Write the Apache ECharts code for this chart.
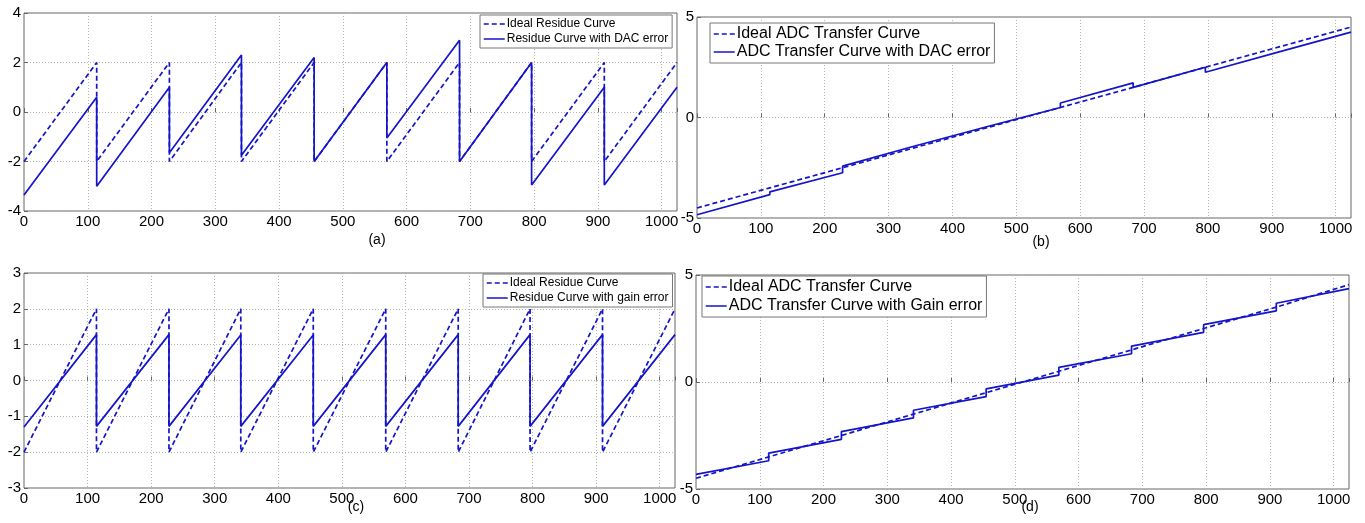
<!DOCTYPE html>
<html>
<head>
<meta charset="utf-8">
<script src="https://cdn.jsdelivr.net/npm/echarts@6/dist/echarts.min.js"></script>
<style>
html,body{margin:0;padding:0;background:#fff;}
#chart{width:1365px;height:523px;}
</style>
</head>
<body>
<div id="chart"></div>
<script>
// ---- data ----
var segmentBreaks = [0, 114, 228, 341, 455, 569, 683, 796, 910, 1024];

// (a) residue curves, DAC error
var idealResidueStart = [-2, -2, -2, -2, -2, -2, -2, -2, -2];
var idealResidueEnd   = [2, 2, 2, 2, 2, 2, 2, 2, 2];
var dacResidueStart   = [-3.35, -3.0, -1.65, -1.75, -2.0, -1.05, -2.0, -2.95, -2.95];
var dacResidueEnd     = [0.6, 1.0, 2.3, 2.2, 2.0, 2.9, 2.0, 1.0, 1.0];

// (b) ADC transfer curves, DAC error
var idealTransferB    = [-4.5, -3.5, -2.5, -1.5, -0.5, 0.5, 1.5, 2.5, 3.5, 4.5];
var dacTransferStart  = [-4.84, -3.7, -2.42, -1.45, -0.5, 0.72, 1.5, 2.25, 3.25];
var dacTransferEnd    = [-3.84, -2.75, -1.42, -0.45, 0.5, 1.72, 2.5, 3.25, 4.25];

// (c) residue curves, gain error
var gainResidueStart  = [-1.3, -1.28, -1.28, -1.28, -1.28, -1.28, -1.28, -1.28, -1.28];
var gainResidueEnd    = [1.28, 1.28, 1.27, 1.27, 1.28, 1.28, 1.28, 1.28, 1.28];

// (d) ADC transfer curves, gain error
var idealTransferD    = [-4.5, -3.5, -2.5, -1.5, -0.5, 0.5, 1.5, 2.5, 3.5, 4.55];
var gainTransferStart = [-4.32, -3.32, -2.32, -1.32, -0.32, 0.68, 1.68, 2.68, 3.68];
var gainTransferEnd   = [-3.68, -2.68, -1.68, -0.68, 0.32, 1.32, 2.32, 3.32, 4.36];

var xTickLabels = [0, 100, 200, 300, 400, 500, 600, 700, 800, 900, 1000];
var panelLabels = ['(a)', '(b)', '(c)', '(d)'];
var legendA = ['Ideal Residue Curve', 'Residue Curve with DAC error'];
var legendB = ['Ideal ADC Transfer Curve', 'ADC Transfer Curve with DAC error'];
var legendC = ['Ideal Residue Curve', 'Residue Curve with gain error'];
var legendD = ['Ideal ADC Transfer Curve', 'ADC Transfer Curve with Gain error'];

// ---- helpers ----
function saw(starts, ends) {
  var d = [];
  for (var k = 0; k < starts.length; k++) {
    d.push([segmentBreaks[k], starts[k]]);
    d.push([segmentBreaks[k + 1], ends[k]]);
  }
  return d;
}
function pts(vals) {
  return vals.map(function (v, i) { return [segmentBreaks[i], v]; });
}

var BLUE = '#1414c8';
var FONT = 'Liberation Sans, Arial, Helvetica, sans-serif';

var grids = [
  {left: 24, top: 13, width: 653, height: 198},
  {left: 697, top: 17, width: 654, height: 201},
  {left: 24, top: 273, width: 651, height: 215},
  {left: 696, top: 275, width: 653, height: 214}
];
var yRanges = [[-4, 4, 2], [-5, 5, 5], [-3, 3, 1], [-5, 5, 5]];

function xAxisFor(i) {
  return {
    type: 'value', gridIndex: i, min: 0, max: 1024, interval: 100,
    axisLine: {show: false},
    axisTick: {show: true, inside: true, length: 4, lineStyle: {color: '#666'}},
    axisLabel: {
      color: '#000', fontSize: 15, fontFamily: FONT, margin: 3,
      formatter: function (v) { return xTickLabels.indexOf(v) >= 0 ? String(v) : ''; }
    },
    splitLine: {show: true, lineStyle: {color: '#b4b4b4', type: [1, 2], width: 1}}
  };
}
function yAxisFor(i) {
  return {
    type: 'value', gridIndex: i, min: yRanges[i][0], max: yRanges[i][1], interval: yRanges[i][2],
    axisLine: {show: false},
    axisTick: {show: true, inside: true, length: 4, lineStyle: {color: '#666'}},
    axisLabel: {color: '#000', fontSize: 15, fontFamily: FONT, margin: 3},
    splitLine: {show: true, lineStyle: {color: '#b4b4b4', type: [1, 2], width: 1}}
  };
}

function lineSeries(name, i, data, dashed) {
  return {
    type: 'line', name: name, xAxisIndex: i, yAxisIndex: i, data: data,
    symbol: 'none', animation: false, silent: true,
    lineStyle: {color: BLUE, width: 1.7, type: dashed ? [5, 3] : 'solid'},
    itemStyle: {color: BLUE}
  };
}

function legendFor(names, left, top, fontSize, gap) {
  return {
    show: true, orient: 'vertical', left: left, top: top,
    data: names.map(function (n) { return {name: n}; }),
    itemWidth: 21, itemHeight: 10, itemGap: gap,
    padding: [3, 4, 3, 3],
    borderColor: '#777', borderWidth: 1, backgroundColor: '#fff',
    itemStyle: {opacity: 0},
    lineStyle: {width: 1.5},
    textStyle: {fontSize: fontSize, fontFamily: FONT, color: '#000', padding: [0, 0, 0, -3]},
    selectedMode: false
  };
}

var option = {
  backgroundColor: '#fff',
  animation: false,
  grid: grids.map(function (g) {
    return Object.assign({show: true, borderColor: '#666', borderWidth: 1, backgroundColor: 'transparent'}, g);
  }),
  xAxis: [0, 1, 2, 3].map(xAxisFor),
  yAxis: [0, 1, 2, 3].map(yAxisFor),
  title: [
    {text: panelLabels[0], left: 377, top: 233, textAlign: 'center'},
    {text: panelLabels[1], left: 1041, top: 235, textAlign: 'center'},
    {text: panelLabels[2], left: 356, top: 500, textAlign: 'center'},
    {text: panelLabels[3], left: 1030, top: 500, textAlign: 'center'}
  ].map(function (t) {
    t.padding = 0;
    t.textStyle = {fontSize: 14, fontWeight: 'normal', fontFamily: FONT, color: '#000'};
    return t;
  }),
  legend: [
    legendFor(legendA, 480, 15, 12, 3),
    legendFor(legendB, 710, 23, 16, 2),
    legendFor(legendC, 483, 274, 12, 3),
    legendFor(legendD, 702, 276, 16, 3)
  ],
  series: [
    lineSeries(legendA[0], 0, saw(idealResidueStart, idealResidueEnd), true),
    lineSeries(legendA[1], 0, saw(dacResidueStart, dacResidueEnd), false),
    lineSeries(legendB[0], 1, pts(idealTransferB), true),
    lineSeries(legendB[1], 1, saw(dacTransferStart, dacTransferEnd), false),
    lineSeries(legendC[0], 2, saw(idealResidueStart, idealResidueEnd), true),
    lineSeries(legendC[1], 2, saw(gainResidueStart, gainResidueEnd), false),
    lineSeries(legendD[0], 3, pts(idealTransferD), true),
    lineSeries(legendD[1], 3, saw(gainTransferStart, gainTransferEnd), false)
  ]
};

var chart = echarts.init(document.getElementById('chart'), null, {renderer: 'canvas'});
chart.setOption(option);
</script>
</body>
</html>
